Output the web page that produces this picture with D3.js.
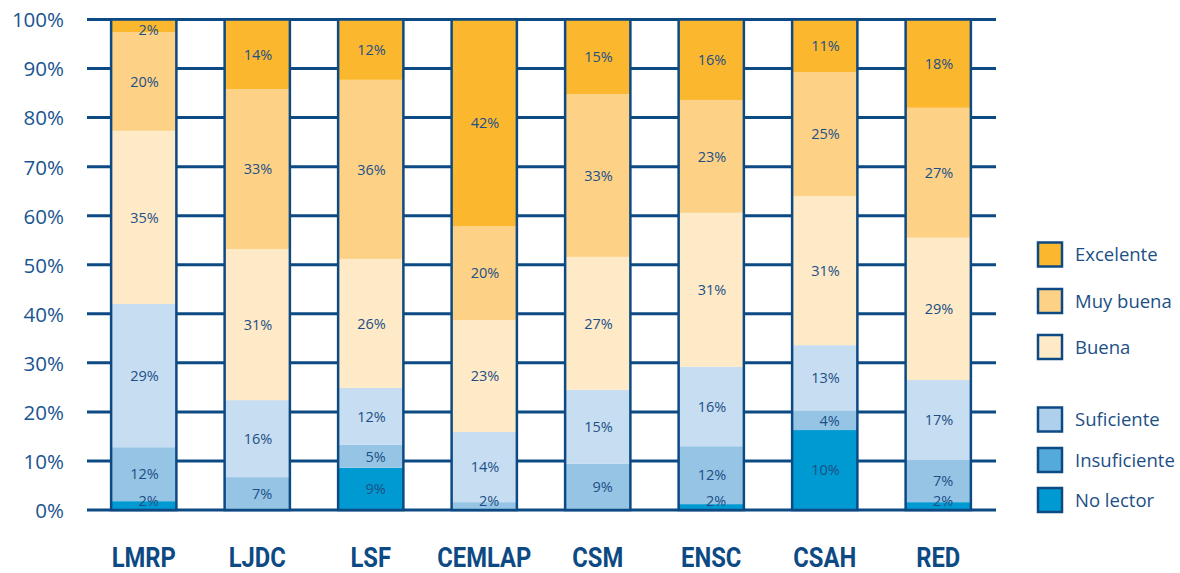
<!DOCTYPE html>
<html>
<head>
<meta charset="utf-8">
<script src="https://cdn.jsdelivr.net/npm/d3@7"></script>
<style>
  html, body { margin: 0; padding: 0; background: #ffffff; }
  svg { display: block; }
  text { font-family: "Open Sans", "Noto Sans", sans-serif; }
</style>
</head>
<body>
<svg id="chart" width="1180" height="573"></svg>
<script>
// ---- Data ----
const categories = ["LMRP", "LJDC", "LSF", "CEMLAP", "CSM", "ENSC", "CSAH", "RED"];
const seriesNames = ["Excelente", "Muy buena", "Buena", "Suficiente", "Insuficiente", "No lector"];

// segment sizes as drawn (percent of bar)
const excelente    = [2.6, 14.2, 12.3, 42.1, 15.2, 16.4, 10.7, 18.0];
const muyBuena     = [20.1, 32.6, 36.5, 19.2, 33.2, 23.0, 25.3, 26.5];
const buena        = [35.3, 30.8, 26.3, 22.8, 27.1, 31.4, 30.4, 29.0];
const suficiente   = [29.2, 15.7, 11.6, 14.3, 15.1, 16.2, 13.4, 16.3];
const insuficiente = [11.0, 6.7, 4.7, 1.6, 9.4, 11.8, 3.9, 8.6];
const noLector     = [1.8, 0, 8.6, 0, 0, 1.2, 16.3, 1.6];

// printed labels
const lblExcelente    = [2, 14, 12, 42, 15, 16, 11, 18];
const lblMuyBuena     = [20, 33, 36, 20, 33, 23, 25, 27];
const lblBuena        = [35, 31, 26, 23, 27, 31, 31, 29];
const lblSuficiente   = [29, 16, 12, 14, 15, 16, 13, 17];
const lblInsuficiente = [12, 7, 5, 2, 9, 12, 4, 7];
const lblNoLector     = [2, null, 9, null, null, 2, 10, 2];

const yTicks = [0, 10, 20, 30, 40, 50, 60, 70, 80, 90, 100];

const colors = {
  "Excelente": "#fbb82f",
  "Muy buena": "#fdd286",
  "Buena": "#feeac7",
  "Suficiente": "#c7ddf1",
  "Insuficiente": "#96c4e5",
  "No lector": "#009ad2"
};
const legendFill = {
  "Excelente": "#fbb82f",
  "Muy buena": "#fdd286",
  "Buena": "#feeac7",
  "Suficiente": "#aed0ec",
  "Insuficiente": "#55aadc",
  "No lector": "#009ad2"
};

const dark = "#0d4a84";
const textColor = "#1c4f86";

// build stacked table (bottom to top)
const stackOrder = ["No lector", "Insuficiente", "Suficiente", "Buena", "Muy buena", "Excelente"];
const valuesBySeries = {
  "Excelente": excelente, "Muy buena": muyBuena, "Buena": buena,
  "Suficiente": suficiente, "Insuficiente": insuficiente, "No lector": noLector
};
const labelsBySeries = {
  "Excelente": lblExcelente, "Muy buena": lblMuyBuena, "Buena": lblBuena,
  "Suficiente": lblSuficiente, "Insuficiente": lblInsuficiente, "No lector": lblNoLector
};
const table = categories.map((c, i) => {
  const row = { cat: c };
  seriesNames.forEach(s => { row[s] = valuesBySeries[s][i]; });
  return row;
});
const stacked = d3.stack().keys(stackOrder)(table);

// ---- Scales ----
const svg = d3.select("#chart");
const x = d3.scaleBand().domain(categories).range([87, 995]).paddingInner(0.425).paddingOuter(0.2125);
const y = d3.scaleLinear().domain([0, 100]).range([510, 19.5]);

// gridlines
const grid = svg.append("g");
grid.selectAll("line").data(yTicks).join("line")
  .attr("x1", 87).attr("x2", 996)
  .attr("y1", d => y(d)).attr("y2", d => y(d))
  .attr("stroke", dark).attr("stroke-width", 3);

// y axis labels
const yAxis = d3.axisLeft(y).tickValues(yTicks).tickFormat(d => d + "%").tickSize(0).tickPadding(0);
const ya = svg.append("g").attr("transform", "translate(64,0)").call(yAxis);
ya.select(".domain").remove();
ya.selectAll("text")
  .attr("fill", "#1a5590")
  .style("font-size", "20.5px")
  .style("font-family", "'Open Sans', sans-serif")
  .attr("dy", "0.36em");

// bars
const layers = svg.append("g").selectAll("g").data(stacked).join("g")
  .attr("fill", d => colors[d.key]);
layers.selectAll("rect").data(d => d).join("rect")
  .attr("x", d => x(d.data.cat))
  .attr("width", x.bandwidth())
  .attr("y", d => y(d[1]))
  .attr("height", d => Math.max(0, y(d[0]) - y(d[1])));

// bar outlines
svg.append("g").selectAll("rect").data(categories).join("rect")
  .attr("x", d => x(d)).attr("width", x.bandwidth())
  .attr("y", y(100)).attr("height", y(0) - y(100))
  .attr("fill", "none").attr("stroke", dark).attr("stroke-width", 2.5);

// value labels
const lblG = svg.append("g");
stacked.forEach(layer => {
  layer.forEach((d, i) => {
    const lbl = labelsBySeries[layer.key][i];
    if (lbl === null || lbl === undefined) return;
    let cy = (y(d[0]) + y(d[1])) / 2;
    cy = Math.max(y(100) + 10.5, Math.min(y(0) - 9, cy));
    lblG.append("text")
      .attr("x", x(d.data.cat) + x.bandwidth() / 2 + 15)
      .attr("y", cy)
      .attr("dy", "0.36em")
      .attr("text-anchor", "end")
      .attr("fill", textColor)
      .style("font-size", "14.5px")
      .text(lbl + "%");
  });
});

// x labels
svg.append("g").selectAll("text").data(categories).join("text")
  .attr("transform", d => `translate(${x(d) + x.bandwidth() / 2},567) scale(0.88,1)`)
  .attr("text-anchor", "middle")
  .attr("fill", "#0d4a84")
  .style("font-family", "Roboto, 'Open Sans', sans-serif")
  .style("font-size", "27px")
  .style("font-weight", "700")
  .text(d => d);

// legend
const legendY = { "Excelente": 254.5, "Muy buena": 301, "Buena": 347, "Suficiente": 419.5, "Insuficiente": 460, "No lector": 500 };
const lg = svg.append("g").selectAll("g").data(seriesNames).join("g")
  .attr("transform", d => `translate(1038,${legendY[d]})`);
lg.append("rect")
  .attr("x", 0).attr("y", -12).attr("width", 24).attr("height", 24)
  .attr("fill", d => legendFill[d]).attr("stroke", dark).attr("stroke-width", 2.5);
lg.append("text")
  .attr("x", 37).attr("y", 0).attr("dy", "0.36em")
  .attr("fill", textColor)
  .style("font-size", "18.5px")
  .text(d => d);
</script>
</body>
</html>
